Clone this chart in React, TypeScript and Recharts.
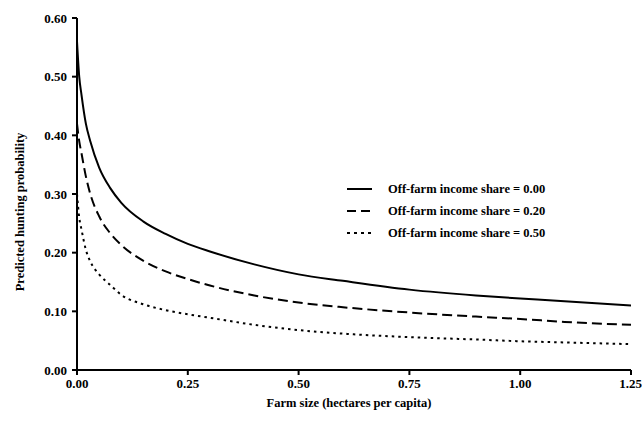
import { LineChart, Line, XAxis, YAxis } from 'recharts';

// farm size (hectares per capita)
const farmSize = [0, 0.005, 0.01, 0.02, 0.03, 0.05, 0.075, 0.1, 0.15, 0.2, 0.25, 0.3, 0.4, 0.5, 0.6, 0.75, 0.9, 1.0, 1.1, 1.25];

// predicted hunting probability, by off-farm income share
const share000 = [0.56, 0.5, 0.47, 0.42, 0.39, 0.345, 0.31, 0.285, 0.253, 0.232, 0.215, 0.202, 0.18, 0.163, 0.152, 0.137, 0.127, 0.122, 0.117, 0.11];
const share020 = [0.42, 0.39, 0.37, 0.33, 0.3, 0.262, 0.233, 0.213, 0.186, 0.168, 0.155, 0.144, 0.127, 0.115, 0.107, 0.098, 0.091, 0.087, 0.082, 0.077];
const share050 = [0.3, 0.26, 0.24, 0.205, 0.185, 0.163, 0.145, 0.128, 0.112, 0.102, 0.095, 0.089, 0.077, 0.068, 0.062, 0.056, 0.052, 0.049, 0.047, 0.044];

const xTicks = [0, 0.25, 0.5, 0.75, 1.0, 1.25];
const yTicks = [0, 0.1, 0.2, 0.3, 0.4, 0.5, 0.6];

const seriesNames = ['Off-farm income share = 0.00', 'Off-farm income share = 0.20', 'Off-farm income share = 0.50'];

const FONT = '"Liberation Serif", "Times New Roman", serif';

const data = farmSize.map((x, i) => ({
  x,
  s0: share000[i],
  s20: share020[i],
  s50: share050[i],
}));

const legendDash = [undefined, '9 5', '3 4'];

const labelStyle = { fontSize: 12.5, fontWeight: 'bold', fill: '#000', fontFamily: FONT };

// legend drawn as an overlay so it takes no room from the plot
function LegendBox() {
  return (
    <div
      style={{
        position: 'absolute',
        left: 345,
        top: 178,
        fontFamily: FONT,
        fontWeight: 'bold',
        fontSize: 12.5,
        color: '#000',
      }}
    >
      {seriesNames.map((name, i) => (
        <div key={name} style={{ display: 'flex', alignItems: 'center', height: 22 }}>
          <svg width={43} height={10}>
            <line x1={2} y1={5} x2={27} y2={5} stroke="#000" strokeWidth={2} strokeDasharray={legendDash[i]} />
          </svg>
          <span>{name}</span>
        </div>
      ))}
    </div>
  );
}

export default function App() {
  const tick = { fontSize: 13, fontWeight: 'bold', fill: '#000', fontFamily: FONT };
  return (
    <div style={{ position: 'absolute', left: 0, top: 0, width: 642, height: 432, background: '#fff' }}>
      <LineChart width={642} height={432} data={data} margin={{ top: 18, right: 11, left: 0, bottom: 0 }}>
        <XAxis
          dataKey="x"
          type="number"
          domain={[0, 1.25]}
          ticks={xTicks}
          tickFormatter={(v: number) => v.toFixed(2)}
          tick={tick}
          height={62}
          tickSize={5}
          tickMargin={4}
          axisLine={{ stroke: '#000', strokeWidth: 2 }}
          tickLine={{ stroke: '#000', strokeWidth: 2 }}
          label={{
            value: 'Farm size (hectares per capita)',
            content: () => (
              <text x={349} y={407} textAnchor="middle" style={labelStyle}>
                Farm size (hectares per capita)
              </text>
            ),
          }}
        />
        <YAxis
          type="number"
          domain={[0, 0.6]}
          ticks={yTicks}
          tickFormatter={(v: number) => v.toFixed(2)}
          tick={tick}
          width={77}
          tickSize={5}
          tickMargin={5}
          axisLine={{ stroke: '#000', strokeWidth: 2 }}
          tickLine={{ stroke: '#000', strokeWidth: 2 }}
          label={{
            value: 'Predicted hunting probability',
            content: () => (
              <text x={24} y={212} transform="rotate(-90 24 212)" textAnchor="middle" style={labelStyle}>
                Predicted hunting probability
              </text>
            ),
          }}
        />
        <Line type="monotone" dataKey="s0" stroke="#000" strokeWidth={2} dot={false} isAnimationActive={false} />
        <Line type="monotone" dataKey="s20" stroke="#000" strokeWidth={2} strokeDasharray="10 5" dot={false} isAnimationActive={false} />
        <Line type="monotone" dataKey="s50" stroke="#000" strokeWidth={2} strokeDasharray="2.5 4" dot={false} isAnimationActive={false} />
      </LineChart>
      <LegendBox />
    </div>
  );
}
